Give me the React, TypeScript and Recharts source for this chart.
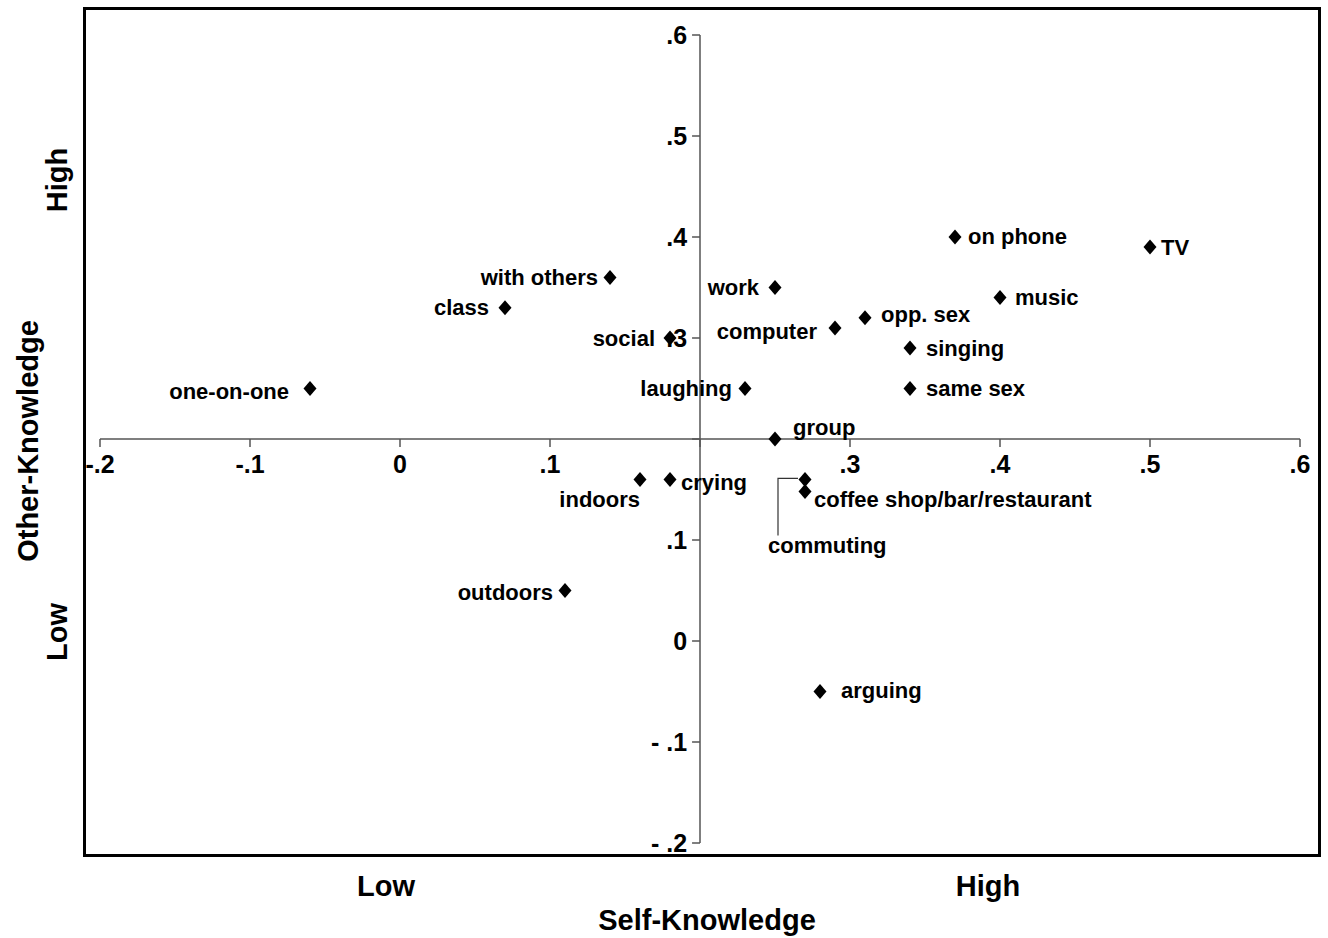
import React from 'react';
import { ScatterChart, Scatter, XAxis, YAxis, ReferenceLine } from 'recharts';

// activities and their correlations with self / other knowledge
const activities = [
  'TV', 'on phone', 'music', 'opp. sex', 'computer', 'singing', 'same sex',
  'work', 'laughing', 'group', 'social', 'with others', 'class', 'one-on-one',
  'indoors', 'crying', 'commuting', 'coffee shop/bar/restaurant', 'outdoors', 'arguing'
];
const selfKnowledge = [
  0.5, 0.37, 0.4, 0.31, 0.29, 0.34, 0.34,
  0.25, 0.23, 0.25, 0.18, 0.14, 0.07, -0.06,
  0.16, 0.18, 0.27, 0.27, 0.11, 0.28
];
const otherKnowledge = [
  0.39, 0.4, 0.34, 0.32, 0.31, 0.29, 0.25,
  0.35, 0.25, 0.2, 0.3, 0.36, 0.33, 0.25,
  0.16, 0.16, 0.16, 0.148, 0.05, -0.05
];

const xTicks = [-0.2, -0.1, 0, 0.1, 0.2, 0.3, 0.4, 0.5, 0.6];
const xTickLabels = ['-.2', '-.1', '0', '.1', '', '.3', '.4', '.5', '.6'];
const yTicks = [-0.2, -0.1, 0, 0.1, 0.2, 0.3, 0.4, 0.5, 0.6];
const yTickLabels = ['- .2', '- .1', '0', '.1', '', '.3', '.4', '.5', '.6'];

const data = activities.map((name, i) => ({ name, x: selfKnowledge[i], y: otherKnowledge[i] }));

// where each point's label sits relative to the marker
const labelPlacement: Record<string, { anchor: string; dx: number; dy: number; leader?: boolean }> = {
  'TV': { anchor: 'start', dx: 11, dy: 0 },
  'on phone': { anchor: 'start', dx: 13, dy: -1 },
  'music': { anchor: 'start', dx: 15, dy: 0 },
  'opp. sex': { anchor: 'start', dx: 16, dy: -3 },
  'computer': { anchor: 'end', dx: -18, dy: 4 },
  'singing': { anchor: 'start', dx: 16, dy: 0 },
  'same sex': { anchor: 'start', dx: 16, dy: 0 },
  'work': { anchor: 'end', dx: -16, dy: 0 },
  'laughing': { anchor: 'end', dx: -13, dy: 0 },
  'group': { anchor: 'start', dx: 18, dy: -12 },
  'social': { anchor: 'end', dx: -15, dy: 0 },
  'with others': { anchor: 'end', dx: -12, dy: 0 },
  'class': { anchor: 'end', dx: -16, dy: 0 },
  'one-on-one': { anchor: 'end', dx: -21, dy: 3 },
  'indoors': { anchor: 'end', dx: 0, dy: 20 },
  'crying': { anchor: 'start', dx: 11, dy: 3 },
  'commuting': { anchor: 'start', dx: -37, dy: 66, leader: true },
  'coffee shop/bar/restaurant': { anchor: 'start', dx: 9, dy: 8 },
  'outdoors': { anchor: 'end', dx: -12, dy: 2 },
  'arguing': { anchor: 'start', dx: 21, dy: -1 },
};

const FONT = '"Liberation Sans", Arial, sans-serif';
const AXIS = '#555';

const DiamondWithLabel = (props: any) => {
  const { cx, cy, payload } = props;
  const p = labelPlacement[payload.name];
  return (
    <g>
      <polygon
        points={`${cx},${cy - 7.5} ${cx + 6.5},${cy} ${cx},${cy + 7.5} ${cx - 6.5},${cy}`}
        fill="#000"
      />
      {p.leader && (
        <polyline
          points={`${cx - 7},${cy - 1} ${cx - 27},${cy - 1} ${cx - 27},${cy + 56}`}
          fill="none"
          stroke="#333"
          strokeWidth={1.2}
        />
      )}
      <text
        x={cx + p.dx}
        y={cy + p.dy}
        textAnchor={p.anchor as any}
        dominantBaseline="central"
        fontSize={22}
        fontWeight="bold"
        fontFamily={FONT}
        fill="#000"
      >
        {payload.name}
      </text>
    </g>
  );
};

const tickLabel = { fill: '#000', fontSize: 25, fontWeight: 'bold', fontFamily: FONT };

const textStyle: React.CSSProperties = {
  position: 'absolute',
  fontFamily: FONT,
  fontWeight: 'bold',
  fontSize: 29,
  color: '#000',
  whiteSpace: 'nowrap',
  lineHeight: 1,
};

export default function App() {
  return (
    <div style={{ position: 'absolute', left: 0, top: 0, width: 1328, height: 938, background: '#fff' }}>
      <div style={{ position: 'absolute', left: 83, top: 7, width: 1232, height: 844, border: '3.5px solid #000' }} />
      <ScatterChart width={1328} height={938} margin={{ top: 35, right: 28, bottom: 95, left: 100 }}>
        <XAxis type="number" dataKey="x" domain={[-0.2, 0.6]} hide />
        <YAxis type="number" dataKey="y" domain={[-0.2, 0.6]} hide />
        <ReferenceLine
          segment={[{ x: -0.2, y: 0.2 }, { x: 0.6, y: 0.2 }]}
          stroke={AXIS}
          strokeWidth={1.5}
          ifOverflow="visible"
        />
        <ReferenceLine
          segment={[{ x: 0.2, y: -0.2 }, { x: 0.2, y: 0.6 }]}
          stroke={AXIS}
          strokeWidth={1.5}
          ifOverflow="visible"
        />
        {xTicks.map((t, i) => (
          <ReferenceLine
            key={`xt-${i}`}
            segment={[{ x: t, y: 0.2 }, { x: t, y: 0.2 - 0.0079 }]}
            stroke={AXIS}
            strokeWidth={1.5}
            ifOverflow="visible"
            label={{ value: xTickLabels[i], position: 'bottom', offset: 8, ...tickLabel }}
          />
        ))}
        {yTicks.map((t, i) => (
          <ReferenceLine
            key={`yt-${i}`}
            segment={[{ x: 0.2 - 0.0053, y: t }, { x: 0.2, y: t }]}
            stroke={AXIS}
            strokeWidth={1.5}
            ifOverflow="visible"
            label={{ value: yTickLabels[i], position: 'left', offset: 5, ...tickLabel }}
          />
        ))}
        <Scatter data={data} shape={<DiamondWithLabel />} isAnimationActive={false} />
      </ScatterChart>
      <div style={{ ...textStyle, left: 386, top: 886, transform: 'translate(-50%, -50%)' }}>Low</div>
      <div style={{ ...textStyle, left: 988, top: 886, transform: 'translate(-50%, -50%)' }}>High</div>
      <div style={{ ...textStyle, left: 707, top: 920, transform: 'translate(-50%, -50%)' }}>Self-Knowledge</div>
      <div style={{ ...textStyle, left: 28, top: 441, transform: 'translate(-50%, -50%) rotate(-90deg)' }}>Other-Knowledge</div>
      <div style={{ ...textStyle, left: 57, top: 180, transform: 'translate(-50%, -50%) rotate(-90deg)' }}>High</div>
      <div style={{ ...textStyle, left: 57, top: 632, transform: 'translate(-50%, -50%) rotate(-90deg)' }}>Low</div>
    </div>
  );
}
